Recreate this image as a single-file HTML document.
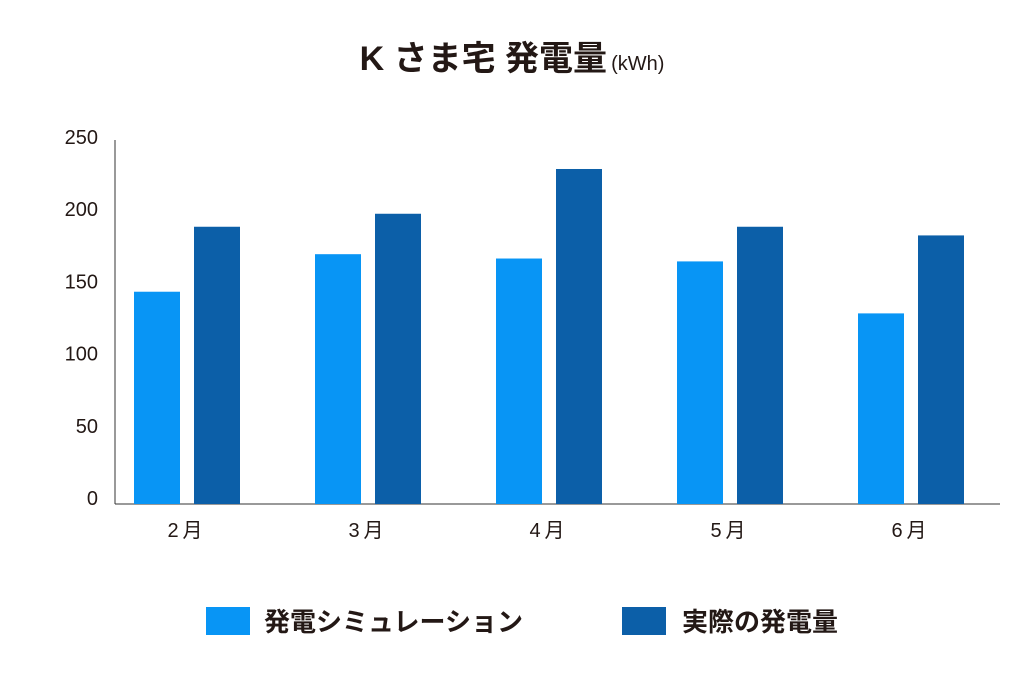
<!DOCTYPE html>
<html><head><meta charset="utf-8"><style>
body{margin:0;background:#fff;}
svg{display:block;font-family:"Liberation Sans","Noto Sans CJK JP",sans-serif;}
</style></head><body>
<svg id="chart" width="1024" height="700" viewBox="0 0 1024 700">
<text x="512" y="70" text-anchor="middle" fill="#231815"><tspan font-size="34" font-weight="bold">K さま宅 発電量</tspan><tspan font-size="20" dx="4">(kWh)</tspan></text>
<g id="axes"></g>
<g id="bars"></g>
<g>
<rect x="206" y="607" width="44" height="28" fill="#0895f5"/>
<text x="264" y="631" font-size="26" font-weight="bold" fill="#231815">発電シミュレーション</text>
<rect x="622" y="607" width="44" height="28" fill="#0c5fa8"/>
<text x="682" y="631" font-size="26" font-weight="bold" fill="#231815">実際の発電量</text>
</g>
</svg>
<script>
const categories=["2月","3月","4月","5月","6月"];
const simulation=[147,173,170,168,132];
const actual=[192,201,232,192,186];
const yTicks=[0,50,100,150,200,250];
const NS="http://www.w3.org/2000/svg";
const x0=115,x1=1000,yBase=504,yTop=143,yMax=250;
function y(v){return yBase-(v/yMax)*(yBase-yTop);}
const step=181,first=187;
function cx(i){return first+i*step;}
function mk(tag,attrs,parent){const e=document.createElementNS(NS,tag);for(const k in attrs)e.setAttribute(k,attrs[k]);parent.appendChild(e);return e;}
const axes=document.getElementById('axes'),bars=document.getElementById('bars');
let l=mk('line',{x1:x0,y1:yTop-3,x2:x0,y2:yBase,stroke:'#333','stroke-width':1},axes);


l=mk('line',{x1:x0,y1:yBase,x2:x1,y2:yBase,stroke:'#333','stroke-width':1},axes);


yTicks.forEach(t=>{
 const e=mk('text',{x:98,y:y(t)+1,'text-anchor':'end','font-size':20,fill:'#231815'},axes);
 e.textContent=t;
 
 
});
categories.forEach((c,i)=>{
 const e=mk('text',{x:cx(i),y:537,'text-anchor':'middle','font-size':20,fill:'#231815','letter-spacing':'4'},axes);
 e.textContent=c;
 
 
 const w=46;
 const b1=mk('rect',{x:cx(i)-53,y:y(simulation[i]),width:w,height:yBase-y(simulation[i]),fill:'#0895f5'},bars);
 
 
 const b2=mk('rect',{x:cx(i)+7,y:y(actual[i]),width:w,height:yBase-y(actual[i]),fill:'#0c5fa8'},bars);
 
 
});
</script>
</body></html>
